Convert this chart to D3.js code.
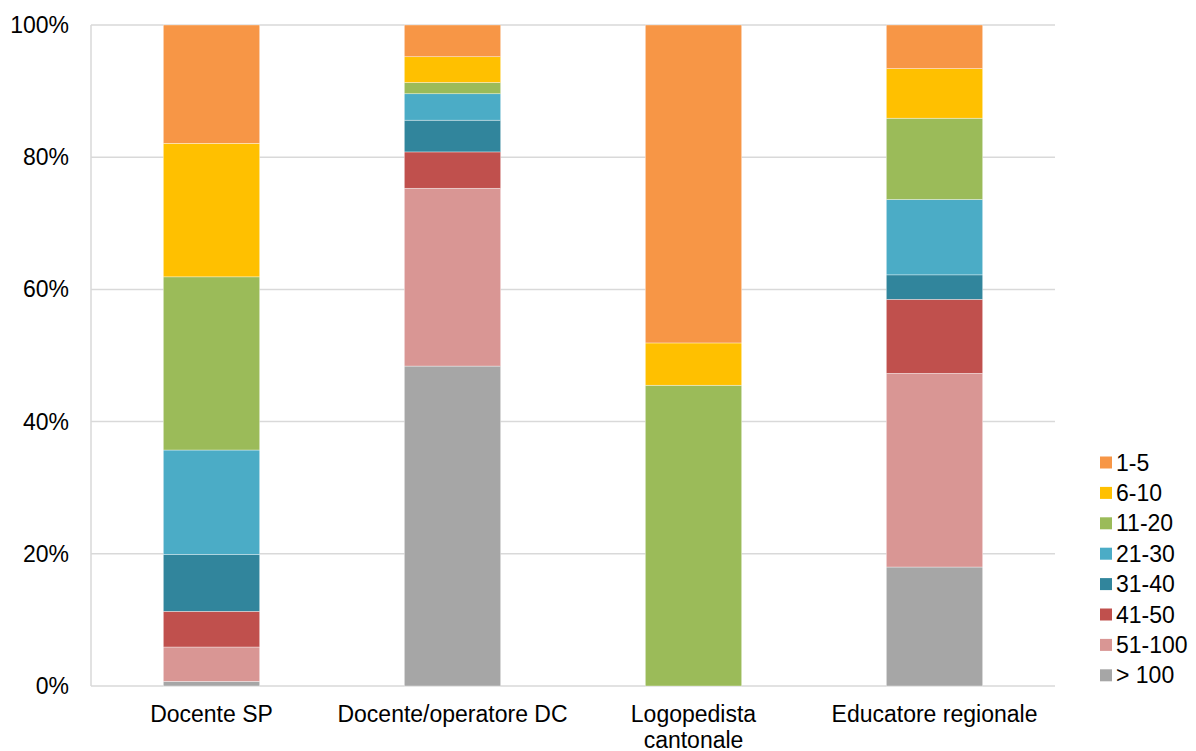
<!DOCTYPE html>
<html><head><meta charset="utf-8">
<script src="https://cdn.jsdelivr.net/npm/d3@7"></script>
<style>body{margin:0;background:#fff}svg{display:block}text{font-family:"Liberation Sans",Arial,sans-serif;fill:#000}</style>
</head><body><svg id="c" width="1196" height="751"></svg>
<script>
const categories = ["Docente SP", "Docente/operatore DC", "Logopedista cantonale", "Educatore regionale"];
const categoryLines = [["Docente SP"], ["Docente/operatore DC"], ["Logopedista", "cantonale"], ["Educatore regionale"]];
const seriesNames = ["> 100", "51-100", "41-50", "31-40", "21-30", "11-20", "6-10", "1-5"];
const seriesColors = ["#A6A6A6", "#D99694", "#C0504D", "#31859C", "#4BACC6", "#9BBB59", "#FFC000", "#F79646"];
// values in %, one array per series, in category order
const gt100   = [0.7, 48.4, 0, 18.0];
const s51_100 = [5.2, 26.9, 0, 29.3];
const s41_50  = [5.4, 5.5, 0, 11.2];
const s31_40  = [8.6, 4.8, 0, 3.7];
const s21_30  = [15.8, 4.0, 0, 11.4];
const s11_20  = [26.2, 1.7, 45.5, 12.3];
const s6_10   = [20.2, 3.9, 6.4, 7.5];
const s1_5    = [17.9, 4.8, 48.1, 6.6];
const yTicks = [0, 20, 40, 60, 80, 100];

const seriesValues = [gt100, s51_100, s41_50, s31_40, s21_30, s11_20, s6_10, s1_5];
const rows = categories.map((c, i) => {
  const r = {cat: c};
  seriesNames.forEach((s, j) => r[s] = seriesValues[j][i]);
  return r;
});
const stack = d3.stack().keys(seriesNames).offset(d3.stackOffsetExpand)(rows);

const svg = d3.select("#c");
const pL = 91, pR = 1055, pT = 25, pB = 686;
const FS = 23;
const x = d3.scaleBand().domain(categories).range([pL, pR]).paddingInner(0.6).paddingOuter(0.3);
const y = d3.scaleLinear().domain([0, 1]).range([pB, pT]);

// gridlines
svg.append("g").selectAll("line").data(yTicks).join("line")
  .attr("x1", pL).attr("x2", pR)
  .attr("y1", d => y(d / 100)).attr("y2", d => y(d / 100))
  .attr("stroke", "#d9d9d9").attr("stroke-width", 1.5);
// left axis line
svg.append("line").attr("x1", pL).attr("x2", pL).attr("y1", pT).attr("y2", pB)
  .attr("stroke", "#d9d9d9").attr("stroke-width", 1.5);

// bars
svg.append("g").selectAll("g").data(stack).join("g")
  .attr("fill", (d, i) => seriesColors[i])
  .selectAll("rect").data(d => d).join("rect")
  .attr("x", d => x(d.data.cat)).attr("width", x.bandwidth())
  .attr("y", d => y(d[1])).attr("height", d => Math.max(0, y(d[0]) - y(d[1])))
  .attr("stroke", "#fff").attr("stroke-width", 0.6).attr("stroke-opacity", 0.6);

// y tick labels
svg.append("g").selectAll("text").data(yTicks).join("text")
  .attr("x", 69).attr("y", d => y(d / 100)).attr("dy", "0.35em")
  .attr("text-anchor", "end").attr("font-size", FS).text(d => d + "%");

// x labels
const xl = svg.append("g").selectAll("text").data(categories).join("text")
  .attr("text-anchor", "middle").attr("font-size", FS)
  .attr("x", d => x(d) + x.bandwidth() / 2).attr("y", 721.5);
xl.selectAll("tspan").data((d, i) => categoryLines[i]).join("tspan")
  .attr("x", function () { return d3.select(this.parentNode).attr("x"); })
  .attr("dy", (d, i) => i === 0 ? 0 : 26).text(d => d);

// legend (top to bottom: 1-5 ... > 100)
const legendItems = seriesNames.map((s, i) => ({name: s, color: seriesColors[i]})).reverse();
const lg = svg.append("g").selectAll("g").data(legendItems).join("g")
  .attr("transform", (d, i) => `translate(1100,${462.5 + i * 30.4})`);
lg.append("rect").attr("x", 0).attr("y", -6).attr("width", 12).attr("height", 12).attr("fill", d => d.color);
lg.append("text").attr("x", 16).attr("dy", "0.35em").attr("font-size", FS).text(d => d.name);
</script></body></html>
